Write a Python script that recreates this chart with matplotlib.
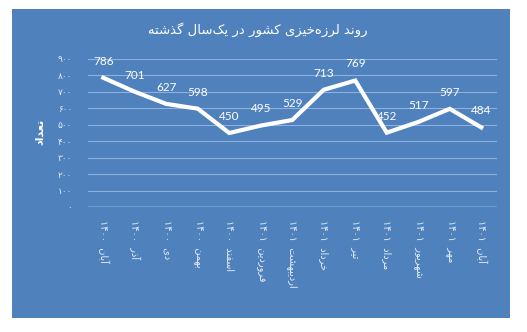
import matplotlib
matplotlib.use("Agg")
import matplotlib.pyplot as plt
from matplotlib.patches import Rectangle

# ---------------- data ----------------
months = ["آبان", "آذر", "دی", "بهمن", "اسفند", "فروردین", "اردیبهشت",
          "خرداد", "تیر", "مرداد", "شهریور", "مهر", "آبان"]
years = ["۱۴۰۰", "۱۴۰۰", "۱۴۰۰", "۱۴۰۰", "۱۴۰۰", "۱۴۰۱", "۱۴۰۱",
         "۱۴۰۱", "۱۴۰۱", "۱۴۰۱", "۱۴۰۱", "۱۴۰۱", "۱۴۰۱"]
counts = [786, 701, 627, 598, 450, 495, 529, 713, 769, 452, 517, 597, 484]
yticks = [0, 100, 200, 300, 400, 500, 600, 700, 800, 900]
title = "روند لرزه\u200cخیزی کشور در یک\u200cسال گذشته"
ylabel = "تعداد"

# ---------------- minimal Persian shaping ----------------
FORMS = {  # isolated, final, initial, medial
    "ا": ("\uFE8D", "\uFE8E", None, None),
    "آ": ("\uFE81", "\uFE82", None, None),
    "ب": ("\uFE8F", "\uFE90", "\uFE91", "\uFE92"),
    "ت": ("\uFE95", "\uFE96", "\uFE97", "\uFE98"),
    "خ": ("\uFEA5", "\uFEA6", "\uFEA7", "\uFEA8"),
    "د": ("\uFEA9", "\uFEAA", None, None),
    "ذ": ("\uFEAB", "\uFEAC", None, None),
    "ر": ("\uFEAD", "\uFEAE", None, None),
    "ز": ("\uFEAF", "\uFEB0", None, None),
    "س": ("\uFEB1", "\uFEB2", "\uFEB3", "\uFEB4"),
    "ش": ("\uFEB5", "\uFEB6", "\uFEB7", "\uFEB8"),
    "ع": ("\uFEC9", "\uFECA", "\uFECB", "\uFECC"),
    "ف": ("\uFED1", "\uFED2", "\uFED3", "\uFED4"),
    "ل": ("\uFEDD", "\uFEDE", "\uFEDF", "\uFEE0"),
    "م": ("\uFEE1", "\uFEE2", "\uFEE3", "\uFEE4"),
    "ن": ("\uFEE5", "\uFEE6", "\uFEE7", "\uFEE8"),
    "ه": ("\uFEE9", "\uFEEA", "\uFEEB", "\uFEEC"),
    "و": ("\uFEED", "\uFEEE", None, None),
    "ی": ("\uFBFC", "\uFBFD", "\uFBFE", "\uFBFF"),
    "ک": ("\uFB8E", "\uFB8F", "\uFB90", "\uFB91"),
    "گ": ("\uFB92", "\uFB93", "\uFB94", "\uFB95"),
}


def dual(c):
    return c in FORMS and FORMS[c][2] is not None


def shape(s):
    out = []
    for i, c in enumerate(s):
        if c == "\u200c":
            continue
        if c not in FORMS:
            out.append(c)
            continue
        prev = s[i - 1] if i > 0 else ""
        nxt = s[i + 1] if i + 1 < len(s) else ""
        jp = dual(prev)
        jn = dual(c) and nxt in FORMS
        f = FORMS[c]
        if jp and jn:
            out.append(f[3])
        elif jp:
            out.append(f[1])
        elif jn:
            out.append(f[2])
        else:
            out.append(f[0])
    return "".join(reversed(out))


def to_fa_digits(n):
    return "".join("۰۱۲۳۴۵۶۷۸۹"[int(d)] for d in str(n))


xlabels = [y + "  " + shape(m) for m, y in zip(months, years)]

# ---------------- figure ----------------
BLUE = "#4F81BD"
fig = plt.figure(figsize=(5.27, 3.32), dpi=100)
fig.patch.set_facecolor("white")
fig.patches.append(Rectangle((12 / 527, 1 - 318 / 332), 498 / 527, 309 / 332,
                             transform=fig.transFigure, facecolor=BLUE,
                             edgecolor="none", zorder=-5))

ax = fig.add_axes([87.5 / 527, 1 - 207 / 332, 409.5 / 527, 148 / 332])
ax.set_zorder(2)
ax.set_facecolor("none")
x = list(range(len(counts)))
ax.plot(x, counts, color="white", lw=3.0, solid_joinstyle="miter", zorder=3)
ax.set_xlim(-0.5, len(counts) - 0.5)
ax.set_ylim(0, 900)
ax.set_yticks(yticks)
ax.set_yticklabels([to_fa_digits(v) for v in yticks], family="DejaVu Sans",
                   fontsize=6.5, color="#e6edf7")
ax.set_xticks(x)
ax.set_xticklabels(xlabels, rotation=-90, family="DejaVu Sans", fontsize=7,
                   color="#e6edf7", va="top", ha="center")
ax.tick_params(axis="both", length=0)
ax.tick_params(axis="y", pad=11)
ax.tick_params(axis="x", pad=9)
for sp in ax.spines.values():
    sp.set_visible(False)
ax.grid(axis="y", color="#8fb0dc", lw=0.8, zorder=1)
ax.axhline(0, color="#f0f4fa", lw=1.0, zorder=2)

for xi, v in zip(x, counts):
    ax.annotate(str(v), (xi, v), xytext=(0, 8), textcoords="offset points",
                ha="center", va="bottom", color="white", fontsize=8.5,
                family=["Lato", "DejaVu Sans"], zorder=4)

fig.text(0.49, 1 - 30 / 332, shape(title), family="DejaVu Sans", fontsize=9.5,
         color="white", ha="center", va="center", zorder=5)
fig.text(40 / 527, 1 - 132 / 332, shape(ylabel), family="DejaVu Sans",
         fontsize=8, fontweight="bold", color="white", rotation=90,
         ha="center", va="center", zorder=5)

fig.savefig("out.png", dpi=100, facecolor="white")
